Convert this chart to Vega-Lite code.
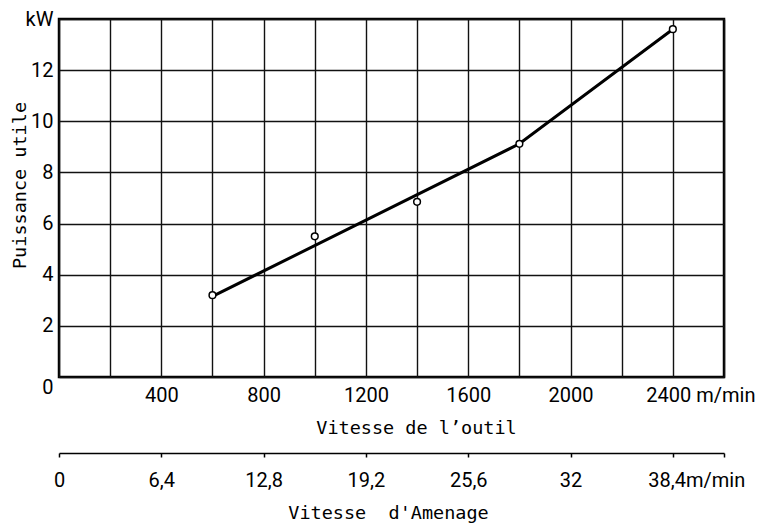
{
  "$schema": "https://vega.github.io/schema/vega-lite/v6.json",
  "width": 665,
  "height": 358,
  "autosize": {"type": "none"},
  "padding": {"left": 59, "top": 19, "right": 37, "bottom": 146},
  "background": "white",
  "config": {
    "view": {"stroke": "black", "strokeWidth": 2.5},
    "font": "Roboto",
    "axis": {
      "labelFont": "Roboto",
      "titleFont": "DejaVu Sans Mono",
      "labelColor": "black",
      "titleColor": "black",
      "titleFontWeight": "normal",
      "labelFontSize": 20,
      "titleFontSize": 18.5
    }
  },
  "datasets": {
    "mesures": [
      {"vitesse": 600, "puissance": 3.2},
      {"vitesse": 1000, "puissance": 5.5},
      {"vitesse": 1400, "puissance": 6.85},
      {"vitesse": 1800, "puissance": 9.12},
      {"vitesse": 2400, "puissance": 13.6}
    ],
    "courbe": [
      {"vitesse": 600, "puissance": 3.15},
      {"vitesse": 1800, "puissance": 9.12},
      {"vitesse": 2400, "puissance": 13.6}
    ],
    "amenage": [
      {"amenage": 0},
      {"amenage": 41.6}
    ]
  },
  "layer": [
    {
      "layer": [
        {
          "data": {"name": "courbe"},
          "mark": {"type": "line", "color": "black", "strokeWidth": 3},
          "encoding": {
            "x": {
              "field": "vitesse",
              "type": "quantitative",
              "scale": {"domain": [0, 2600], "nice": false, "zero": false},
              "axis": {
                "title": "Vitesse de l’outil",
                "values": [0, 200, 400, 600, 800, 1000, 1200, 1400, 1600, 1800, 2000, 2200, 2400, 2600],
                "format": "d",
                "labelExpr": "datum.value == 2400 ? '2400 m/min' : ((datum.value > 0 && datum.value % 400 == 0) ? datum.label : '')",
                "labelAlign": {"condition": {"test": "datum.value == 2400", "value": "left"}, "value": "center"},
                "labelOffset": {"condition": {"test": "datum.value == 2400", "value": -27}, "value": 0},
                "labelBaseline": "alphabetic",
                "labelPadding": 24,
                "labelFlush": false,
                "labelOverlap": false,
                "labelBound": false,
                "grid": true,
                "gridColor": "#111111",
                "gridWidth": 1.4,
                "gridOpacity": 1,
                "domain": false,
                "ticks": false,
                "tickSize": 0,
                "titleX": 357,
                "titleY": 56,
                "titleAlign": "center",
                "titleBaseline": "alphabetic"
              }
            },
            "y": {
              "field": "puissance",
              "type": "quantitative",
              "scale": {"domain": [0, 14], "nice": false},
              "axis": {
                "title": "Puissance utile",
                "values": [0, 2, 4, 6, 8, 10, 12, 14],
                "labelExpr": "datum.value == 14 ? 'kW' : datum.label",
                "labelBaseline": {"condition": {"test": "datum.value == 0", "value": "top"}, "value": "middle"},
                "labelPadding": 6,
                "labelOverlap": false,
                "labelFlush": false,
                "labelBound": false,
                "grid": true,
                "gridColor": "#111111",
                "gridWidth": 1.4,
                "gridOpacity": 1,
                "domain": false,
                "ticks": false,
                "tickSize": 0,
                "titleX": -34,
                "titleY": 166,
                "titleAngle": 270,
                "titleAlign": "center",
                "titleBaseline": "alphabetic"
              }
            }
          }
        },
        {
          "data": {"name": "mesures"},
          "mark": {"type": "point", "shape": "circle", "filled": true, "fill": "white", "stroke": "black", "strokeWidth": 1.5, "size": 45, "opacity": 1},
          "encoding": {
            "x": {"field": "vitesse", "type": "quantitative"},
            "y": {"field": "puissance", "type": "quantitative"}
          }
        }
      ]
    },
    {
      "data": {"name": "amenage"},
      "mark": {"type": "point", "opacity": 0},
      "encoding": {
        "x": {
          "field": "amenage",
          "type": "quantitative",
          "scale": {"domain": [0, 41.6], "nice": false, "zero": false},
          "axis": {
            "orient": "bottom",
            "offset": 76,
            "title": "Vitesse\u00a0 d'Amenage",
            "values": [0, 6.4, 12.8, 19.2, 25.6, 32, 38.4, 41.6],
            "labelExpr": "datum.value == 41.6 ? '' : (datum.value == 38.4 ? '38,4m/min' : replace(toString(datum.value), '.', ','))",
            "labelAlign": {"condition": {"test": "datum.value == 38.4", "value": "left"}, "value": "center"},
            "labelOffset": {"condition": {"test": "datum.value == 38.4", "value": -25}, "value": 0},
            "labelBaseline": "alphabetic",
            "labelPadding": 29,
            "labelFlush": false,
            "labelOverlap": false,
            "labelBound": false,
            "grid": false,
            "domain": true,
            "domainColor": "black",
            "domainWidth": 1.5,
            "ticks": true,
            "tickColor": "black",
            "tickWidth": 1.5,
            "tickSize": 4,
            "titleX": 329,
            "titleY": 65,
            "titleAlign": "center",
            "titleBaseline": "alphabetic"
          }
        }
      }
    }
  ],
  "resolve": {"scale": {"x": "independent"}}
}
